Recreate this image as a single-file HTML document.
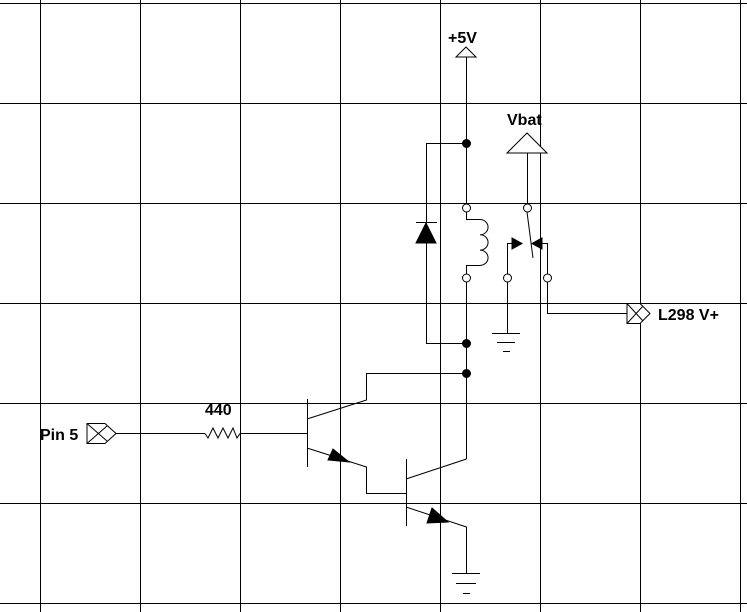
<!DOCTYPE html>
<html><head><meta charset="utf-8"><style>
html,body{margin:0;padding:0;background:#fff;}
svg{display:block;}
text{font-family:"Liberation Sans",Arial,sans-serif;font-size:16px;font-weight:bold;fill:#000;}
</style></head><body>
<svg width="747" height="612" viewBox="0 0 747 612" xmlns="http://www.w3.org/2000/svg">
<g stroke="#000" stroke-width="1" shape-rendering="crispEdges">
<line x1="40.5" y1="0" x2="40.5" y2="612"/><line x1="140.5" y1="0" x2="140.5" y2="612"/><line x1="240.5" y1="0" x2="240.5" y2="612"/><line x1="340.5" y1="0" x2="340.5" y2="612"/><line x1="440.5" y1="0" x2="440.5" y2="612"/><line x1="540.5" y1="0" x2="540.5" y2="612"/><line x1="640.5" y1="0" x2="640.5" y2="612"/><line x1="740.5" y1="0" x2="740.5" y2="612"/>
<line x1="0" y1="3.5" x2="747" y2="3.5"/><line x1="0" y1="103.5" x2="747" y2="103.5"/><line x1="0" y1="203.5" x2="747" y2="203.5"/><line x1="0" y1="303.5" x2="747" y2="303.5"/><line x1="0" y1="403.5" x2="747" y2="403.5"/><line x1="0" y1="503.5" x2="747" y2="503.5"/><line x1="0" y1="603.5" x2="747" y2="603.5"/>
</g>
<g stroke="#000" stroke-width="1" fill="none">
<g>
<polygon points="466,47 456,57 476,57" fill="#fff"/>
<line x1="466.5" y1="57" x2="466.5" y2="204"/>
</g>
<text x="448" y="43" stroke="none">+5V</text>
<g>
<polyline points="466,143.5 426.5,143.5 426.5,343.5 466,343.5"/>
<polygon points="426,223 416,243 436,243" fill="#000"/>
<line x1="416" y1="222.5" x2="437" y2="222.5"/>
</g>
<g>
<circle cx="466.5" cy="208" r="4" fill="#fff"/>
<polyline points="466.5,212 466.5,219.5 480,219.5"/>
<path d="M480,219.5 a8,7.6 0 0 1 0,15.3 a8,7.6 0 0 1 0,15.3 a8,7.6 0 0 1 0,15.3"/>
<polyline points="480,265.5 466.5,265.5 466.5,274"/>
<circle cx="466.5" cy="278" r="4" fill="#fff"/>
<line x1="466.5" y1="282" x2="466.5" y2="459"/>
</g>
<circle cx="466.5" cy="143.5" r="4" fill="#000"/>
<circle cx="466.5" cy="343.5" r="4" fill="#000"/>
<circle cx="466.5" cy="373.5" r="4" fill="#000"/>
<g>
<polygon points="527,133 507,153 547,153" fill="#fff"/>
<line x1="527.5" y1="153" x2="527.5" y2="204"/>
<circle cx="527.5" cy="208" r="4" fill="#fff"/>
</g>
<text x="507" y="125" stroke="none">Vbat</text>
<g>
<line x1="527" y1="212" x2="533" y2="258"/>
<circle cx="507.5" cy="278" r="4" fill="#fff"/>
<polyline points="507.5,274 507.5,243.5 512,243.5"/>
<polygon points="512,238 522,243.5 512,249" fill="#000"/>
<circle cx="547.5" cy="278" r="4" fill="#fff"/>
<polyline points="547.5,274 547.5,243.5 542,243.5"/>
<polygon points="542,238 532,243.5 542,249" fill="#000"/>
<line x1="507.5" y1="282" x2="507.5" y2="333"/>
<line x1="492" y1="333.5" x2="520" y2="333.5"/><line x1="497" y1="342.5" x2="515" y2="342.5"/><line x1="503" y1="351.5" x2="510" y2="351.5"/>
<polyline points="547.5,282 547.5,313.5 627,313.5"/>
</g>
<g>
<polygon points="627,303.5 640,303.5 650,313.5 640,323.5 627,323.5" fill="#fff"/>
<line x1="627" y1="303.5" x2="643" y2="321"/><line x1="627" y1="323.5" x2="643" y2="306"/>
</g>
<text x="658" y="320" stroke="none">L298 V+</text>
<g>
<polygon points="87,423.5 105,423.5 116,433.5 105,443.5 87,443.5" fill="#fff"/>
<line x1="87" y1="423.5" x2="107" y2="441"/><line x1="87" y1="443.5" x2="107" y2="426"/>
</g>
<text x="40" y="440" stroke="none">Pin 5</text>
<g>
<line x1="116" y1="433.5" x2="205" y2="433.5"/>
<polyline points="205,433.5 208,438 213,428 218,438 223,428 228,438 233,428 237,438 240,433.5"/>
<line x1="240" y1="433.5" x2="307" y2="433.5"/>
</g>
<text x="205" y="415" stroke="none">440</text>
<g>
<line x1="307.5" y1="399" x2="307.5" y2="467"/>
<polyline points="307,419 366.5,400 366.5,373.5 466,373.5"/>
<polyline points="307,448 366.5,467 366.5,493.5 406,493.5"/>
<polygon points="328,460 333,449 349,462" fill="#000"/>
</g>
<g>
<line x1="406.5" y1="459" x2="406.5" y2="526"/>
<polyline points="406,479 466.5,459"/>
<polyline points="406,507 466.5,527 466.5,573"/>
<polygon points="427,523 432,508 448,522" fill="#000"/>
</g>
<g>
<line x1="452" y1="573.5" x2="480" y2="573.5"/><line x1="456" y1="583.5" x2="476" y2="583.5"/><line x1="463" y1="593.5" x2="470" y2="593.5"/>
</g>
</g>
</svg>
</body></html>
